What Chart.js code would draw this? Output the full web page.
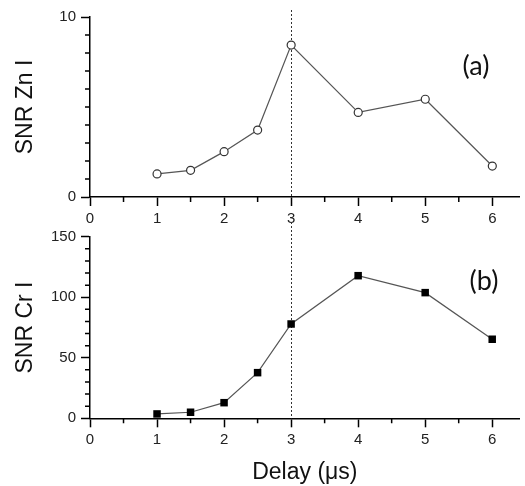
<!DOCTYPE html>
<html><head><meta charset="utf-8">
<script src="https://cdn.jsdelivr.net/npm/chart.js@4"></script>
<style>
html,body{margin:0;padding:0;background:#fff;}
.box{position:absolute;left:0;width:525px;}
</style></head><body>
<div class="box" style="top:0;height:240px"><canvas id="c1" width="525" height="240"></canvas></div>
<div class="box" style="top:222px;height:264px"><canvas id="c2" width="525" height="264"></canvas></div>
<script>
// ---- data ----
const delays = [1, 1.5, 2, 2.5, 3, 4, 5, 6];
const snrZn = [1.28, 1.48, 2.52, 3.72, 8.44, 4.70, 5.43, 1.72];
const snrCr = [3.6, 5.0, 12.9, 37.7, 77.9, 117.8, 103.8, 65.3];
const xTickLabels = [0, 1, 2, 3, 4, 5, 6];
const xMinorTicks = [0.5, 1.5, 2.5, 3.5, 4.5, 5.5];
const znTickLabels = [0, 10];
const znMinorTicks = [1, 2, 3, 4, 5, 6, 7, 8, 9];
const crTickLabels = [0, 50, 100, 150];
const crMinorTicks = [10, 20, 30, 40, 60, 70, 80, 90, 110, 120, 130, 140];
const markerDelay = 3;
const panelLabels = ['(a)', '(b)'];
const axisTitles = {zn: 'SNR Zn I', cr: 'SNR Cr I', x: 'Delay (\u03bcs)'};

const FAMILY = "'Liberation Sans', Arial, sans-serif";
const TICKFONT = {family: FAMILY, size: 15};
const TITLEFONT = {family: FAMILY, size: 23};

function extras(cfg) {
  return {
    id: 'extras',
    beforeDatasetsDraw(chart) {
      const {ctx, chartArea, scales: {x}} = chart;
      const dx = Math.round(x.getPixelForValue(cfg.vline)) + 0.5;
      ctx.save();
      ctx.setLineDash([2, 2]);
      ctx.lineWidth = 1;
      ctx.strokeStyle = '#333';
      ctx.beginPath();
      ctx.moveTo(dx, cfg.vTop);
      ctx.lineTo(dx, chartArea.bottom);
      ctx.stroke();
      ctx.restore();
    },
    afterDraw(chart) {
      const {ctx, chartArea, scales: {x, y}} = chart;
      ctx.save();
      ctx.strokeStyle = '#000';
      ctx.lineWidth = 1.5;
      ctx.beginPath();
      cfg.xMinor.forEach(v => {
        const px = x.getPixelForValue(v);
        ctx.moveTo(px, chartArea.bottom);
        ctx.lineTo(px, chartArea.bottom + 5);
      });
      cfg.yMinor.forEach(v => {
        const py = y.getPixelForValue(v);
        ctx.moveTo(chartArea.left, py);
        ctx.lineTo(chartArea.left - 5, py);
      });
      ctx.stroke();
      ctx.font = "27px Lato, 'Open Sans', sans-serif";
      ctx.fillStyle = '#111';
      ctx.textAlign = 'center';
      ctx.textBaseline = 'middle';
      ctx.fillText(cfg.label, cfg.lx, cfg.ly);
      ctx.restore();
    }
  };
}

function xScale(h, title) {
  return {
    type: 'linear', min: 0, max: 6.41,
    afterBuildTicks: s => { s.ticks = xTickLabels.map(v => ({value: v})); },
    afterFit: s => { s.height = h; },
    ticks: {font: TICKFONT, color: '#222', padding: 4, autoSkip: false, maxRotation: 0},
    grid: {display: true, drawOnChartArea: false, drawTicks: true, tickLength: 9, tickColor: '#000', tickWidth: 1.5},
    border: {display: true, color: '#000', width: 1.5},
    title: title ? {display: true, text: title, font: TITLEFONT, color: '#111', padding: {top: 0, bottom: 0}} : {display: false}
  };
}
function yScale(max, labels, title) {
  return {
    type: 'linear', min: 0, max: max,
    afterBuildTicks: s => { s.ticks = labels.map(v => ({value: v})); },
    afterFit: s => { s.width = 90; },
    ticks: {font: TICKFONT, color: '#222', padding: 5, autoSkip: false},
    grid: {display: true, drawOnChartArea: false, drawTicks: true, tickLength: 9, tickColor: '#000', tickWidth: 1.5},
    border: {display: true, color: '#000', width: 1.5},
    title: {display: true, text: title, font: TITLEFONT, color: '#111', padding: {top: 12, bottom: 0}}
  };
}
const common = {
  responsive: false, animation: false,
  plugins: {legend: {display: false}, tooltip: {enabled: false}}
};

new Chart(document.getElementById('c1'), {
  type: 'line',
  data: {datasets: [{
    data: delays.map((d, i) => ({x: d, y: snrZn[i]})),
    borderColor: '#555', borderWidth: 1.2, tension: 0,
    pointStyle: 'circle', pointRadius: 4, pointBorderWidth: 1.2,
    pointBorderColor: '#333', pointBackgroundColor: '#fff', clip: false
  }]},
  options: Object.assign({}, common, {
    layout: {padding: {top: 17, right: 0, left: 0, bottom: 0}},
    scales: {x: xScale(43, null), y: yScale(10, znTickLabels, axisTitles.zn)}
  }),
  plugins: [extras({vline: markerDelay, vTop: 10, xMinor: xMinorTicks, yMinor: znMinorTicks, label: panelLabels[0], lx: 476, ly: 66})]
});

new Chart(document.getElementById('c2'), {
  type: 'line',
  data: {datasets: [{
    data: delays.map((d, i) => ({x: d, y: snrCr[i]})),
    borderColor: '#555', borderWidth: 1.2, tension: 0,
    pointStyle: 'rect', pointRadius: 5.3, pointBorderWidth: 0,
    pointBorderColor: '#000', pointBackgroundColor: '#000', clip: false
  }]},
  options: Object.assign({}, common, {
    layout: {padding: {top: 14.7, right: 0, left: 0, bottom: 0}},
    scales: {x: xScale(67.7, axisTitles.x), y: yScale(150, crTickLabels, axisTitles.cr)}
  }),
  plugins: [extras({vline: markerDelay, vTop: 0, xMinor: xMinorTicks, yMinor: crMinorTicks, label: panelLabels[1], lx: 484, ly: 281 - 222})]
});
</script>
</body></html>
